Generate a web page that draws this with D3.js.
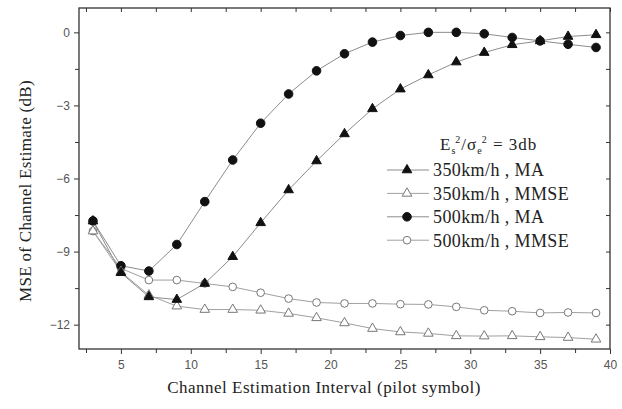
<!DOCTYPE html>
<html>
<head>
<meta charset="utf-8">
<script src="https://cdn.jsdelivr.net/npm/d3@7"></script>
<style>
    body { margin: 0; background: #fff; }
    svg { display: block; }
</style>
</head>
<body>
<svg id="grafico"></svg>
<script>
    // dados
    const intervals = [3, 5, 7, 9, 11, 13, 15, 17, 19, 21, 23, 25, 27, 29, 31, 33, 35, 37, 39];
    const ma350 = [-7.75, -9.87, -10.86, -10.97, -10.31, -9.21, -7.82, -6.47, -5.28, -4.17, -3.14, -2.33, -1.75, -1.22, -0.83, -0.51, -0.35, -0.17, -0.10];
    const mmse350 = [-8.16, -9.83, -10.79, -11.24, -11.38, -11.38, -11.41, -11.54, -11.72, -11.93, -12.16, -12.30, -12.36, -12.46, -12.47, -12.46, -12.50, -12.53, -12.60];
    const ma500 = [-7.74, -9.58, -9.80, -8.71, -6.95, -5.24, -3.73, -2.53, -1.58, -0.88, -0.40, -0.13, 0.0, 0.0, -0.06, -0.21, -0.35, -0.49, -0.62];
    const mmse500 = [-8.16, -9.69, -10.17, -10.17, -10.31, -10.45, -10.69, -10.93, -11.09, -11.13, -11.13, -11.16, -11.17, -11.27, -11.41, -11.45, -11.52, -11.50, -11.52];
    const seriesNames = ["350km/h , MA", "350km/h , MMSE", "500km/h , MA", "500km/h , MMSE"];
    const xTicks = [5, 10, 15, 20, 25, 30, 35, 40];
    const xMinor = [2.5, 7.5, 12.5, 17.5, 22.5, 27.5, 32.5, 37.5];
    const yTicks = [0, -3, -6, -9, -12];
    const yMinor = [-1.5, -4.5, -7.5, -10.5];

    let width = 622,
        height = 409,
        margin = { top: 8, right: 12, bottom: 60, left: 79 };

    let svg = d3.select("#grafico")
        .attr("width", width)
        .attr("height", height);

    let x = d3.scaleLinear().domain([2, 40]).range([margin.left, width - margin.right]);
    let y = d3.scaleLinear().domain([-13, 1]).range([height - margin.bottom, margin.top]);

    let series = [
        { name: seriesNames[0], values: ma350, shape: d3.symbolTriangle, size: 40, filled: true, line: "#8c8c8c" },
        { name: seriesNames[1], values: mmse350, shape: d3.symbolTriangle, size: 40, filled: false, line: "#a0a0a0" },
        { name: seriesNames[2], values: ma500, shape: d3.symbolCircle, size: 58, filled: true, line: "#8c8c8c" },
        { name: seriesNames[3], values: mmse500, shape: d3.symbolCircle, size: 46, filled: false, line: "#a0a0a0" },
    ];

    // eixos
    let axisStyle = (g) => {
        g.select(".domain").remove();
        g.selectAll("line").attr("stroke", "#333");
        g.selectAll("text")
            .attr("fill", "#555")
            .style("font-family", "'Liberation Sans', Arial, sans-serif")
            .style("font-size", "12px");
    };

    svg.append("g")
        .attr("transform", `translate(0, ${y.range()[0]})`)
        .call(d3.axisBottom(x).tickValues(xTicks).tickSize(5).tickPadding(6))
        .call(axisStyle);
    svg.append("g")
        .attr("transform", `translate(0, ${y.range()[0]})`)
        .call(d3.axisBottom(x).tickValues(xMinor).tickSize(4).tickFormat(""))
        .call(axisStyle);
    svg.append("g")
        .attr("transform", `translate(${x.range()[0]}, 0)`)
        .call(d3.axisLeft(y).tickValues(yTicks).tickSize(5).tickPadding(4).tickFormat(d3.format("d")))
        .call(axisStyle);
    svg.append("g")
        .attr("transform", `translate(${x.range()[0]}, 0)`)
        .call(d3.axisLeft(y).tickValues(yMinor).tickSize(4).tickFormat(""))
        .call(axisStyle);
    // espelho: topo e direita com ticks para dentro
    svg.append("g")
        .attr("transform", `translate(0, ${y.range()[1]})`)
        .call(d3.axisBottom(x).tickValues(xTicks.concat(xMinor)).tickSize(4).tickFormat(""))
        .call(axisStyle);
    svg.append("g")
        .attr("transform", `translate(${x.range()[1]}, 0)`)
        .call(d3.axisLeft(y).tickValues(yTicks.concat(yMinor)).tickSize(4).tickFormat(""))
        .call(axisStyle);

    svg.append("rect")
        .attr("x", x.range()[0])
        .attr("y", y.range()[1])
        .attr("width", x.range()[1] - x.range()[0])
        .attr("height", y.range()[0] - y.range()[1])
        .attr("fill", "none")
        .attr("stroke", "#333")
        .attr("stroke-width", 1.3);

    // linhas e marcadores
    let line = d3.line()
        .x((d, i) => x(intervals[i]))
        .y((d) => y(d));

    let drawMarker = (sel, s) => {
        sel.attr("d", d3.symbol(s.shape, s.size)())
            .attr("fill", s.filled ? "#111" : "#fff")
            .attr("stroke", s.filled ? "#111" : "#777")
            .attr("stroke-width", 1);
    };

    series.forEach((s) => {
        svg.append("path")
            .attr("d", line(s.values))
            .attr("fill", "none")
            .attr("stroke", s.line)
            .attr("stroke-width", 1);
    });
    series.slice().reverse().forEach((s) => {
        svg.append("g").selectAll("path")
            .data(s.values)
            .enter()
            .append("path")
            .attr("transform", (d, i) => `translate(${x(intervals[i])}, ${y(d)})`)
            .call(drawMarker, s);
    });

    // legenda
    let serif = "'Liberation Serif', 'Times New Roman', serif";
    let legendTitle = svg.append("text")
        .attr("x", 440)
        .attr("y", 150)
        .attr("fill", "#222")
        .style("font-family", serif)
        .style("font-size", "17px")
        .style("letter-spacing", "1px");
    legendTitle.append("tspan").text("E");
    legendTitle.append("tspan").attr("dy", 4).style("font-size", "10px").text("s");
    legendTitle.append("tspan").attr("dy", -11).attr("dx", -1).style("font-size", "10px").text("2");
    legendTitle.append("tspan").attr("dy", 7).text("/σ");
    legendTitle.append("tspan").attr("dy", 4).style("font-size", "10px").text("e");
    legendTitle.append("tspan").attr("dy", -11).attr("dx", -1).style("font-size", "10px").text("2");
    legendTitle.append("tspan").attr("dy", 7).text(" = 3db");

    let legend = svg.append("g").selectAll("g")
        .data(series)
        .enter()
        .append("g")
        .attr("transform", (d, i) => `translate(387, ${170 + i * 23.4})`);

    legend.append("line")
        .attr("x1", 0).attr("x2", 42)
        .attr("stroke", (d) => d.line)
        .attr("stroke-width", 1);
    legend.append("path")
        .each(function (d) { d3.select(this).call(drawMarker, d); })
        .attr("transform", "translate(20, 0)");
    legend.append("text")
        .attr("x", 46)
        .attr("dy", "0.35em")
        .attr("fill", "#222")
        .style("font-family", serif)
        .style("font-size", "18px")
        .style("letter-spacing", "0.4px")
        .text((d) => d.name);

    // títulos dos eixos
    svg.append("text")
        .attr("x", 324)
        .attr("y", 393)
        .attr("text-anchor", "middle")
        .attr("fill", "#222")
        .style("font-family", serif)
        .style("font-size", "17px")
        .style("letter-spacing", "0.5px")
        .text("Channel Estimation Interval (pilot symbol)");

    svg.append("text")
        .attr("transform", "translate(31, 191) rotate(-90)")
        .attr("text-anchor", "middle")
        .attr("fill", "#222")
        .style("font-family", serif)
        .style("font-size", "17px")
        .style("letter-spacing", "0.3px")
        .text("MSE of Channel Estimate (dB)");
</script>
</body>
</html>
